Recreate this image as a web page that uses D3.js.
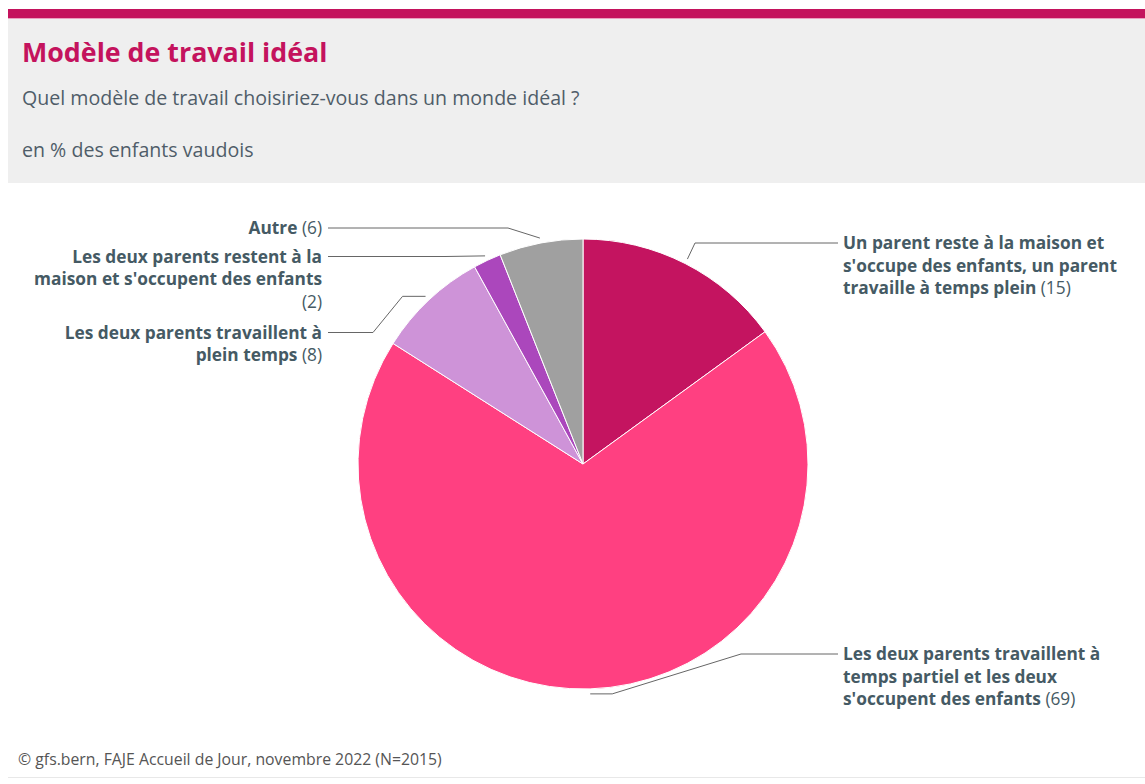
<!DOCTYPE html>
<html><head><meta charset="utf-8">
<script src="https://cdn.jsdelivr.net/npm/d3@7"></script>
<style>
body{margin:0;background:#fff;}
svg{display:block;font-family:"Open Sans",Lato,sans-serif;}
</style></head><body>
<svg id="c" width="1145" height="784"></svg>
<script>
// ---- data ----
const title = "Modèle de travail idéal";
const subtitle = "Quel modèle de travail choisiriez-vous dans un monde idéal ?";
const unitNote = "en % des enfants vaudois";
const source = "© gfs.bern, FAJE Accueil de Jour, novembre 2022 (N=2015)";
const categories = [
  "Un parent reste à la maison et s'occupe des enfants, un parent travaille à temps plein",
  "Les deux parents travaillent à temps partiel et les deux s'occupent des enfants",
  "Les deux parents travaillent à plein temps",
  "Les deux parents restent à la maison et s'occupent des enfants",
  "Autre"
];
const values = [15, 69, 8, 2, 6];
const colors = ["#c41460", "#ff4081", "#ce93d8", "#ab47bc", "#a0a0a0"];
// words per label line (value token included at end)
const lineBreaks = [[7,5,5],[5,5,4],[5,3],[6,5,1],[2]];

// ---- layout ----
const W = 1145, H = 784;
const cx = 583, cy = 464, R = 225;
const labelLayout = [
  {side:"right", y:243, crookX:695, breakDx:0},
  {side:"right", y:654, crookX:741, breakDx:22},
  {side:"left",  y:332.5, crookX:373, breakDx:23},
  {side:"left",  y:256.5, crookX:445, breakDx:0},
  {side:"left",  y:228, crookX:508, breakDx:0}
];
const rightLineX = 838, rightTextX = 843, leftLineX = 328, leftTextX = 322;
const lineH = 22.5;
const textColor = "#455a64";

const svg = d3.select("#c");

// header
svg.append("rect").attr("x",8).attr("y",18).attr("width",W-8).attr("height",165).attr("fill","#efefef");
svg.append("rect").attr("x",8).attr("y",9).attr("width",W-8).attr("height",9).attr("fill","#c4135d");
svg.append("rect").attr("x",8).attr("y",18).attr("width",W-8).attr("height",1).attr("fill","#eaa0bf");
svg.append("text").attr("x",22).attr("y",62).attr("fill","#c4135d")
  .attr("font-size",26.8).attr("font-weight",700).text(title);
svg.append("text").attr("x",22).attr("y",105).attr("fill","#4f5d69")
  .attr("font-size",19.6).text(subtitle);
svg.append("text").attr("x",22).attr("y",157).attr("fill","#4f5d69")
  .attr("font-size",19.6).text(unitNote);

// pie
const pie = d3.pie().sort(null).value(d => d)(values);
const arc = d3.arc().innerRadius(0).outerRadius(R);
const g = svg.append("g").attr("transform",`translate(${cx},${cy})`);
g.selectAll("path").data(pie).join("path")
  .attr("d", arc)
  .attr("fill", (d,i) => colors[i])
  .attr("stroke", "#fff").attr("stroke-width", 1);

// connectors & labels
const touchR = R + 5;
pie.forEach((d,i) => {
  const L = labelLayout[i];
  const a = (d.startAngle + d.endAngle)/2;
  const tx = cx + touchR*Math.sin(a), ty = cy - touchR*Math.cos(a);
  const dir = L.side === "right" ? 1 : -1;
  const pts = [
    [L.side==="right"?rightLineX:leftLineX, L.y],
    [L.crookX, L.y],
    [tx + dir*L.breakDx, ty],
    [tx, ty]
  ];
  svg.append("path").attr("d", d3.line()(pts))
    .attr("fill","none").attr("stroke","#666").attr("stroke-width",1);

  const words = categories[i].split(" ").map(w => ({w, bold:true}));
  words.push({w:`(${values[i]})`, bold:false});
  let k = 0;
  const t = svg.append("text")
    .attr("text-anchor", L.side==="right" ? "start" : "end")
    .attr("fill", textColor).attr("font-size", 17.3);
  lineBreaks[i].forEach((n, li) => {
    const lineWords = words.slice(k, k+n); k += n;
    const ts = t.append("tspan")
      .attr("x", L.side==="right" ? rightTextX : leftTextX)
      .attr("y", L.y + 6 + li*lineH);
    lineWords.forEach((wd, wi) => {
      ts.append("tspan").attr("font-weight", wd.bold ? 700 : 400)
        .text((wi>0 ? " " : "") + wd.w);
    });
  });
});

// footer
svg.append("text").attr("x",18).attr("y",765).attr("fill","#555")
  .attr("font-size",15.8).text(source);
svg.append("rect").attr("x",8).attr("y",777).attr("width",W-8).attr("height",1).attr("fill","#e8e8e8");
</script>
</body></html>
